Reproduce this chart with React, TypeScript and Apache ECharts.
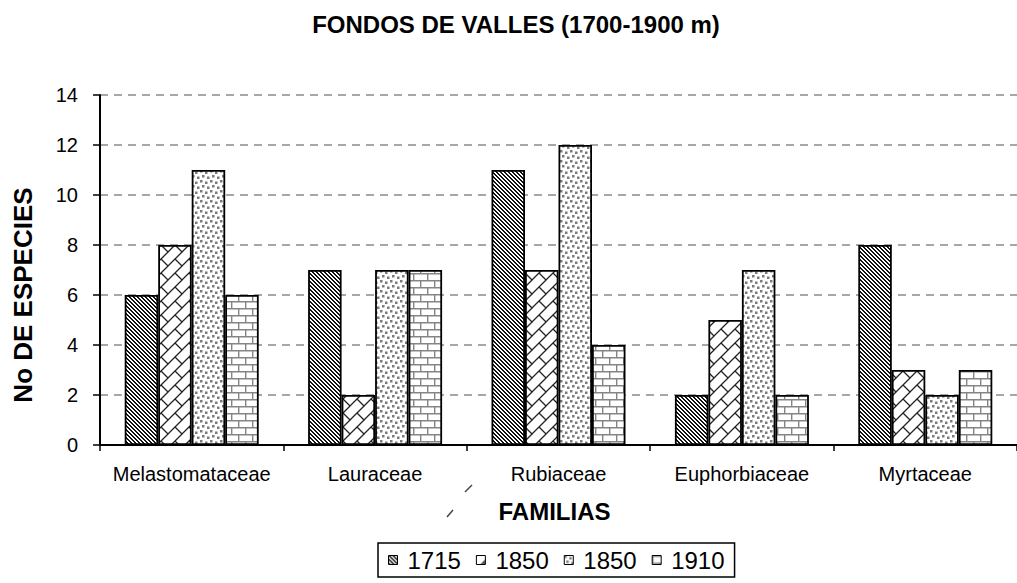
import React, { useEffect, useRef } from "react";
import * as echarts from "echarts";

const categories = ["Melastomataceae", "Lauraceae", "Rubiaceae", "Euphorbiaceae", "Myrtaceae"];
const seriesNames = ["1715", "1850", "1850 (b)", "1910"];
const legendLabels = ["1715", "1850", "1850", "1910"];
const values1715 = [6, 7, 11, 2, 8];
const values1850a = [8, 2, 7, 5, 3];
const values1850b = [11, 7, 12, 7, 2];
const values1910 = [6, 7, 4, 2, 3];
const yTicks = [0, 2, 4, 6, 8, 10, 12, 14];

const FONT = '"Liberation Sans", Arial, sans-serif';

function makeCanvas(w: number, h: number, draw: (ctx: CanvasRenderingContext2D) => void) {
  const c = document.createElement("canvas");
  c.width = w;
  c.height = h;
  const ctx = c.getContext("2d")!;
  ctx.fillStyle = "#ffffff";
  ctx.fillRect(0, 0, w, h);
  draw(ctx);
  return c;
}

function buildPatterns() {
  // dark downward diagonal hatch
  const hatch = makeCanvas(4, 4, (ctx) => {
    ctx.fillStyle = "#111111";
    for (let x = 0; x < 4; x++) {
      for (let y = 0; y < 4; y++) {
        const d = (((x - y) % 4) + 4) % 4;
        if (d === 0 || d === 1) ctx.fillRect(x, y, 1, 1);
      }
    }
  });
  // diagonal brick
  const T = 14;
  const dbrick = makeCanvas(T, T, (ctx) => {
    ctx.strokeStyle = "#222222";
    ctx.lineWidth = 1.3;
    ctx.beginPath();
    for (const o of [-T, 0, T]) {
      ctx.moveTo(-2 + o, T + 2);
      ctx.lineTo(T + 2 + o, -2);
    }
    ctx.moveTo(T / 2, T / 2);
    ctx.lineTo(T + 1, T + 1);
    ctx.moveTo(-1, -1);
    ctx.lineTo(0.5, 0.5);
    ctx.stroke();
  });
  // dotted
  const dots = makeCanvas(10, 10, (ctx) => {
    ctx.fillStyle = "#7a7a7a";
    const pts = [
      [0, 0],
      [5, 1.5],
      [2, 5],
      [7, 6.5],
    ];
    for (const [x, y] of pts) ctx.fillRect(x, y, 2.5, 2.5);
  });
  // horizontal brick
  const hbrick = makeCanvas(14, 14, (ctx) => {
    ctx.strokeStyle = "#858585";
    ctx.lineWidth = 1.4;
    ctx.beginPath();
    ctx.moveTo(0, 0.7);
    ctx.lineTo(14, 0.7);
    ctx.moveTo(0, 7.7);
    ctx.lineTo(14, 7.7);
    ctx.moveTo(0.7, 0);
    ctx.lineTo(0.7, 7.7);
    ctx.moveTo(7.7, 7.7);
    ctx.lineTo(7.7, 14);
    ctx.stroke();
  });
  const pat = (c: HTMLCanvasElement) => ({
    image: c,
    repeat: "repeat",
    imageWidth: c.width,
    imageHeight: c.height,
  });
  return [pat(hatch), pat(dbrick), pat(dots), pat(hbrick)];
}

export default function App() {
  const ref = useRef<HTMLDivElement>(null);

  useEffect(() => {
    if (!ref.current) return;
    const chart = echarts.init(ref.current, null, { renderer: "svg" });
    const patterns = buildPatterns();
    const data = [values1715, values1850a, values1850b, values1910];

    const option: any = {
      animation: false,
      backgroundColor: "#ffffff",
      title: {
        text: "FONDOS DE VALLES (1700-1900 m)",
        left: 511,
        top: 7,
        textAlign: "center",
        textStyle: { fontFamily: FONT, fontSize: 24, fontWeight: "bold", color: "#000" },
      },
      legend: {
        left: 378,
        top: 543,
        orient: "horizontal",
        data: seriesNames,
        formatter: (name: string) => legendLabels[seriesNames.indexOf(name)],
        icon: "rect",
        itemWidth: 9,
        itemHeight: 9,
        itemGap: 15,
        padding: [5, 10, 5, 10],
        borderColor: "#000",
        borderWidth: 1.5,
        borderRadius: 0,
        selectedMode: false,
        itemStyle: { borderColor: "#000", borderWidth: 1 },
        textStyle: { fontFamily: FONT, fontSize: 24, color: "#000", padding: [0, 0, 0, 5] },
      },
      grid: { left: 100, top: 95, width: 920, bottom: 138, containLabel: false },
      xAxis: {
        type: "category",
        data: categories,
        name: "FAMILIAS",
        nameLocation: "middle",
        nameGap: 54,
        nameTextStyle: {
          fontFamily: FONT,
          fontSize: 24,
          fontWeight: "bold",
          color: "#000",
          padding: [0, 8, 0, 0],
          verticalAlign: "top",
        },
        axisLine: { lineStyle: { color: "#000", width: 2 } },
        axisTick: { show: true, interval: 0, length: 6, lineStyle: { color: "#000", width: 1.5 } },
        axisLabel: { interval: 0, fontFamily: FONT, fontSize: 20, color: "#000", margin: 19 },
        splitLine: { show: false },
      },
      yAxis: {
        type: "value",
        min: yTicks[0],
        max: yTicks[yTicks.length - 1],
        interval: 2,
        axisLine: { show: true, lineStyle: { color: "#000", width: 2 } },
        axisTick: { show: true, length: 7, lineStyle: { color: "#000", width: 1.5 } },
        axisLabel: { fontFamily: FONT, fontSize: 20, color: "#000", margin: 22 },
        splitLine: {
          show: true,
          lineStyle: { color: "#8a8a8a", width: 1.5, type: [8, 6] },
        },
      },
      series: seriesNames.map((name, i) => ({
        name,
        type: "bar",
        data: data[i],
        barWidth: 33.5,
        barGap: "0%",
        itemStyle: { color: patterns[i], borderColor: "#000", borderWidth: 1.8 },
        emphasis: { disabled: true },
      })),
      graphic: [
        {
          type: "text",
          x: 23,
          y: 295,
          rotation: Math.PI / 2,
          style: {
            text: "No DE ESPECIES",
            font: `bold 26px ${FONT}`,
            fill: "#000",
            textAlign: "center",
            textVerticalAlign: "middle",
            align: "center",
            verticalAlign: "middle",
          },
        },
        {
          type: "line",
          shape: { x1: 465, y1: 492, x2: 472, y2: 485 },
          style: { stroke: "#444", lineWidth: 1.5 },
        },
        {
          type: "line",
          shape: { x1: 447, y1: 517, x2: 453, y2: 510 },
          style: { stroke: "#444", lineWidth: 1.5 },
        },
      ],
    };
    chart.setOption(option);
    return () => chart.dispose();
  }, []);

  return (
    <div
      ref={ref}
      style={{ position: "absolute", left: 0, top: 0, width: 1017, height: 583 }}
    />
  );
}
